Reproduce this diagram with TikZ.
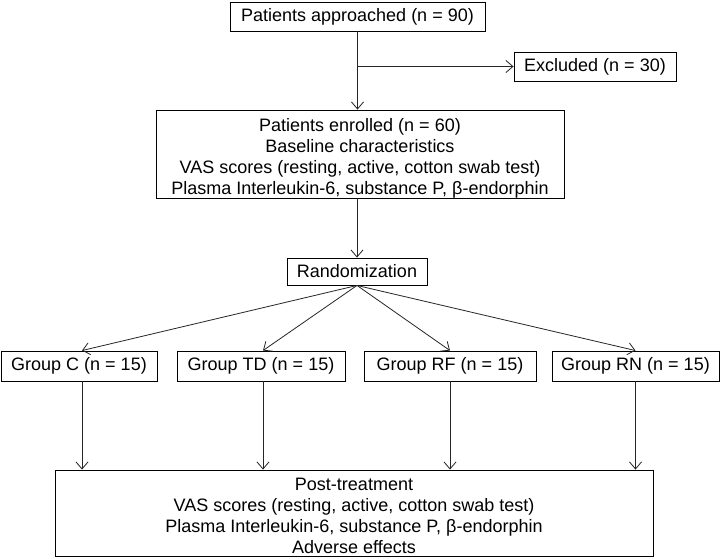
\documentclass[tikz,border=0pt]{standalone}
\usepackage{fontspec}
\setmainfont{Liberation Sans}
\usetikzlibrary{arrows.meta}
\begin{document}
\begin{tikzpicture}[x=1pt,y=-1pt,
  box/.style={draw=black,line width=0.9pt,inner sep=0pt,align=center,
    font=\fontsize{18}{21}\selectfont},
  txt/.style={inner sep=0pt,align=center,font=\fontsize{18}{21}\selectfont},
  arr/.style={draw=black!85,line width=0.8pt,-{Straight Barb[length=7pt,width=12pt]}}]
\useasboundingbox[fill=white] (0,0) rectangle (721,558);
\node[box,minimum width=255pt,minimum height=29pt] (top) at (357.5,16.5) {Patients approached (n = 90)};
\node[box,minimum width=162pt,minimum height=29pt] (excl) at (595,66.5) {Excluded (n = 30)};
\node[box,minimum width=408pt,minimum height=88pt] (enr) at (360,154) {};
\node[txt] (enrtxt) at (360,158) {Patients enrolled (n = 60)\\Baseline characteristics\\VAS scores (resting, active, cotton swab test)\\Plasma Interleukin-6, substance P, β-endorphin};
\node[box,minimum width=140pt,minimum height=27pt] (rand) at (357,271.5) {Randomization};
\node[box,minimum width=156pt,minimum height=30pt] (gc) at (79,366) {Group C (n = 15)};
\node[box,minimum width=168pt,minimum height=30pt] (gtd) at (261,366) {Group TD (n = 15)};
\node[box,minimum width=172pt,minimum height=30pt] (grf) at (450,366) {Group RF (n = 15)};
\node[box,minimum width=167pt,minimum height=30pt] (grn) at (635.5,366) {Group RN (n = 15)};
\node[box,minimum width=598pt,minimum height=86pt] (bot) at (354,513) {};
\node[txt] (bottxt) at (354,516) {Post-treatment\\VAS scores (resting, active, cotton swab test)\\Plasma Interleukin-6, substance P, β-endorphin\\Adverse effects};
\coordinate (br) at (top.south |- excl.west);
\draw[arr] (top.south) -- (top.south |- enr.north);
\draw[arr] (br) -- (excl.west);
\draw[arr] (rand.north |- enr.south) -- (rand.north);
\draw[arr] (rand.south) -- ([xshift=3pt]gc.north);
\draw[arr] (rand.south) -- ([xshift=2pt]gtd.north);
\draw[arr] (rand.south) -- (grf.north);
\draw[arr] (rand.south) -- (grn.north);
\draw[arr] ([xshift=3pt]gc.south) -- ([xshift=3pt]gc.south |- bot.north);
\draw[arr] ([xshift=2pt]gtd.south) -- ([xshift=2pt]gtd.south |- bot.north);
\draw[arr] (grf.south) -- (grf.south |- bot.north);
\draw[arr] (grn.south) -- (grn.south |- bot.north);
\end{tikzpicture}
\end{document}
